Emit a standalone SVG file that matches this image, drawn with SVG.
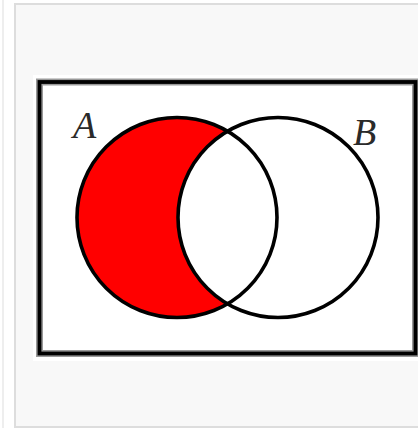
<svg xmlns="http://www.w3.org/2000/svg" width="418" height="428" viewBox="0 0 418 428">
  <style>
    .ring { fill: none; stroke: #000; stroke-width: 3.6; }
    .lbl { font-family: "Liberation Serif", "DejaVu Serif", serif; font-style: italic; font-size: 38px; fill: #2a2a2a; }
  </style>
  <rect x="0" y="0" width="418" height="428" fill="#ffffff"/>
  <line x1="3" y1="0" x2="3" y2="428" stroke="#eeeeee" stroke-width="2"/>
  <rect id="panel" x="15" y="4" width="410" height="423" fill="#f8f8f8" stroke="#dddddd" stroke-width="2"/>
  <rect x="33" y="75" width="390" height="286" fill="#ffffff"/>
  <g id="universe">
    <rect x="39.5" y="82" width="376" height="271.5" fill="#ffffff" stroke="#999999" stroke-width="7"/>
    <rect x="39.5" y="82" width="376" height="271.5" fill="none" stroke="#000000" stroke-width="3.8"/>
  </g>
  <g id="region-A-minus-B">
    <path d="M227.5,131.19 A100,100 0 1 0 227.5,303.81 A100,100 0 0 1 227.5,131.19 Z" fill="#ff0000"/>
  </g>
  <g id="set-A">
    <circle class="ring" cx="177" cy="217.5" r="100"/>
    <text class="lbl" x="73" y="138">A</text>
  </g>
  <g id="set-B">
    <circle class="ring" cx="278" cy="217.5" r="100"/>
    <text class="lbl" x="353" y="145">B</text>
  </g>
</svg>
